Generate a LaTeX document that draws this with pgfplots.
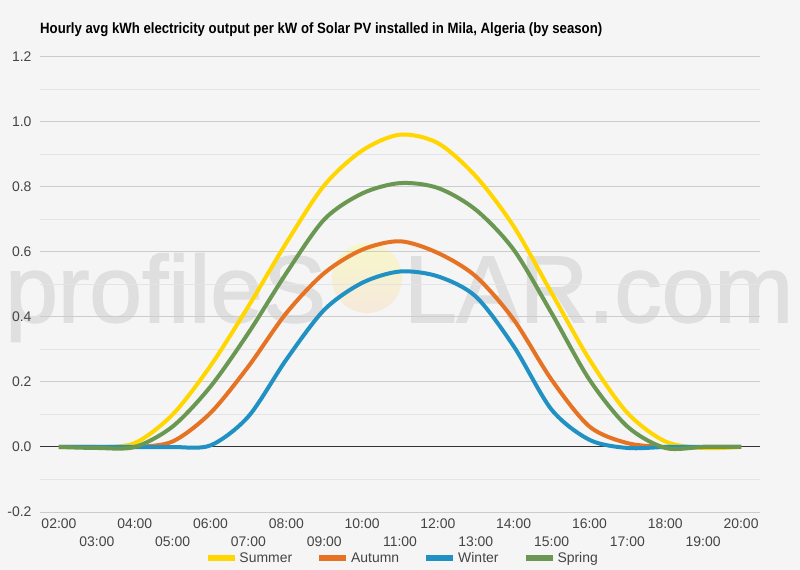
\documentclass[border=0pt]{standalone}
\usepackage{graphicx}
\usepackage{pgfplots}
\pgfplotsset{compat=1.18}
\usepackage{pgfplotstable}
\usepackage{fontspec}
\setmainfont{Liberation Sans}
\newfontfamily\wmfont[FakeBold=1.6]{Liberation Sans}

\definecolor{bg}{RGB}{245,245,245}
\definecolor{summer}{RGB}{255,214,0}
\definecolor{autumn}{RGB}{230,114,35}
\definecolor{winter}{RGB}{33,145,196}
\definecolor{spring}{RGB}{106,152,82}
\definecolor{gridmaj}{RGB}{204,204,204}
\definecolor{gridmin}{RGB}{228,228,228}
\definecolor{ticktext}{RGB}{68,68,68}
\definecolor{wm}{RGB}{223,223,223}

% hourly values, kWh per kW installed
\pgfplotstableread{
hour summer autumn winter spring
2  0      0      0      0
3  0      0      0      -0.003
4  0.012  0      0      0
5  0.100  0.017  0      0.063
6  0.250  0.105  0.005  0.186
7  0.433  0.248  0.094  0.351
8  0.628  0.412  0.269  0.535
9  0.805  0.535  0.422  0.700
10 0.912  0.607  0.505  0.780
11 0.961  0.633  0.540  0.812
12 0.935  0.597  0.525  0.797
13 0.833  0.525  0.463  0.730
14 0.679  0.392  0.310  0.607
15 0.474  0.207  0.115  0.412
16 0.269  0.063  0.022  0.207
17 0.105  0.012  -0.003 0.063
18 0.017  0      0      -0.003
19 -0.003 0      0      0
20 0      0      0      0
}\data

\begin{document}
\begin{tikzpicture}
\fill[bg] (0,0) rectangle (800bp,570bp);
\path[use as bounding box] (0,0) rectangle (800bp,570bp);

% watermark
\node[anchor=base west, inner sep=0, text=wm, font=\wmfont\fontsize{95}{95}\selectfont]
  at (5bp,248bp) {profileS\hspace{78bp}LAR.com};
\shade[top color=yellow!18!bg, bottom color=orange!10!bg] (367bp,292bp) circle (35bp);

\node[anchor=base west, inner sep=0, font=\bfseries\fontsize{15}{18}\selectfont]
  at (40bp,536.7bp) {\resizebox{562bp}{\height}{Hourly avg kWh electricity output per kW of Solar PV installed in Mila, Algeria (by season)}};

\begin{axis}[
  at={(40bp,58bp)}, anchor=south west,
  scale only axis, width=720bp, height=455bp,
  xmin=1.5, xmax=20.5, ymin=-0.2, ymax=1.2,
  axis lines=left, axis line style={draw=none, -},
  major tick length=0, minor tick length=0,
  ytick={-0.2,0.2,0.4,0.6,0.8,1.0,1.2},
  extra y ticks={0},
  minor ytick={-0.1,0.1,0.3,0.5,0.7,0.9,1.1},
  ymajorgrids, yminorgrids,
  major grid style={gridmaj, line width=1bp},
  minor grid style={gridmin, line width=1bp},
  yticklabel style={/pgf/number format/.cd, fixed, fixed zerofill, precision=1, assume math mode=true, /tikz/.cd,
    anchor=east, inner sep=0, xshift=-8.3bp, text=ticktext, font=\fontsize{14}{16}\selectfont},
  xtick={2,4,...,20},
  xticklabels={02:00,04:00,06:00,08:00,10:00,12:00,14:00,16:00,18:00,20:00},
  extra x ticks={3,5,...,19},
  extra x tick labels={03:00,05:00,07:00,09:00,11:00,13:00,15:00,17:00,19:00},
  extra x tick style={xticklabel style={yshift=-18bp}},
  xticklabel style={anchor=base, inner sep=0, yshift=-16bp, text=ticktext, font=\fontsize{14}{16}\selectfont},
  legend columns=4,
  legend style={at={(0.503,-0.101)}, anchor=center, draw=none, fill=none,
    font=\fontsize{14}{16}\selectfont, text=ticktext,
    /tikz/every even column/.append style={column sep=22bp}},
  legend image code/.code={\draw[line width=6bp] (0bp,0bp) -- (27bp,0bp);},
]
\addplot[black!80, line width=1bp, forget plot] coordinates {(1.5,0) (20.5,0)};
\addplot[summer, line width=4bp, smooth] table[x=hour, y=summer] {\data};
\addlegendentry{Summer}
\addplot[autumn, line width=4bp, smooth] table[x=hour, y=autumn] {\data};
\addlegendentry{Autumn}
\addplot[winter, line width=4bp, smooth] table[x=hour, y=winter] {\data};
\addlegendentry{Winter}
\addplot[spring, line width=4bp, smooth] table[x=hour, y=spring] {\data};
\addlegendentry{Spring}
\end{axis}
\end{tikzpicture}
\end{document}
